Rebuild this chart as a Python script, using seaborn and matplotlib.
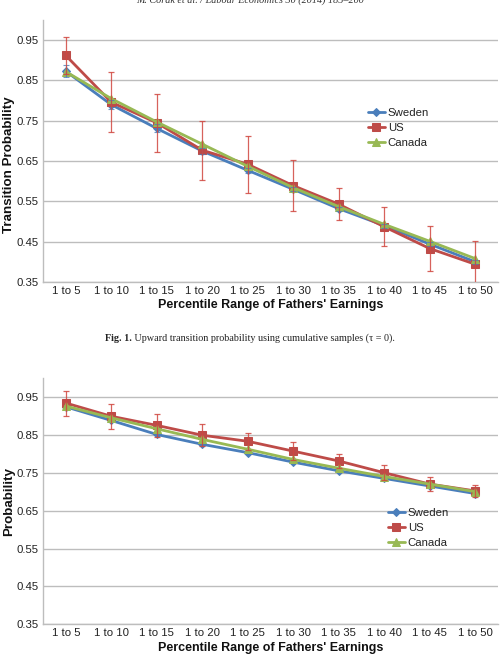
import numpy as np
import pandas as pd
import matplotlib
matplotlib.use("Agg")
import matplotlib.pyplot as plt
import seaborn as sns

# ---------------- data ----------------
categories = ["1 to 5", "1 to 10", "1 to 15", "1 to 20", "1 to 25",
              "1 to 30", "1 to 35", "1 to 40", "1 to 45", "1 to 50"]
countries = ["Sweden", "US", "Canada"]

# Fig top: transition probability (tau = 0)
top_sweden = [0.873, 0.790, 0.731, 0.675, 0.627, 0.580, 0.532, 0.490, 0.444, 0.400]
top_us     = [0.912, 0.796, 0.745, 0.677, 0.642, 0.589, 0.543, 0.487, 0.433, 0.394]
top_canada = [0.872, 0.805, 0.747, 0.692, 0.637, 0.584, 0.537, 0.493, 0.451, 0.408]
top_us_err = [0.045, 0.074, 0.072, 0.073, 0.071, 0.064, 0.040, 0.048, 0.055, 0.058]
top_sweden_err = [0.015, 0.012, 0.010, 0.008, 0.006, 0.005, 0.005, 0.005, 0.005, 0.005]

# Fig bottom: probability
bot_sweden = [0.924, 0.888, 0.851, 0.825, 0.803, 0.778, 0.755, 0.735, 0.715, 0.695]
bot_us     = [0.934, 0.899, 0.875, 0.849, 0.833, 0.807, 0.781, 0.750, 0.720, 0.702]
bot_canada = [0.926, 0.895, 0.866, 0.838, 0.812, 0.785, 0.762, 0.740, 0.720, 0.700]
bot_us_err = [0.033, 0.033, 0.031, 0.029, 0.022, 0.023, 0.019, 0.020, 0.018, 0.016]

yticks = [0.35, 0.45, 0.55, 0.65, 0.75, 0.85, 0.95]
header = "M. Corak et al. / Labour Economics 30 (2014) 185\u2013200"
caption_bold = "Fig. 1."
caption_rest = " Upward transition probability using cumulative samples (\u03c4 = 0)."

# ---------------- style ----------------
sns.set_theme(style="white")
plt.rcParams["font.family"] = ["Liberation Sans", "DejaVu Sans"]

palette = {"Sweden": "#4A7EBB", "US": "#BE4B48", "Canada": "#98B954"}
markers = {"Sweden": "D", "US": "s", "Canada": "^"}
msizes = {"Sweden": 4.0, "US": 6.0, "Canada": 6.0}

W, H = 500, 657
fig = plt.figure(figsize=(W / 100, H / 100), dpi=100)

def axes_px(left, top, right, bottom):
    return fig.add_axes([left / W, 1 - bottom / H, (right - left) / W, (bottom - top) / H])

ax1 = axes_px(43, 20, 498, 282)
ax2 = axes_px(43, 378, 498, 624.3)

def draw(ax, sw, us, ca, us_err, sw_err, ylabel, ylabel_y, legend_xy, xlabel_y):
    df = pd.DataFrame({
        "pos": list(range(len(categories))) * 3,
        "value": sw + us + ca,
        "country": ["Sweden"] * len(sw) + ["US"] * len(us) + ["Canada"] * len(ca),
    })
    for c in countries:
        sub = df[df["country"] == c]
        sns.lineplot(data=sub, x="pos", y="value", ax=ax, color=palette[c],
                     marker=markers[c], markersize=msizes[c], linewidth=2.0,
                     markeredgecolor=palette[c], label=c, zorder=3)
    x = np.arange(len(categories))
    if sw_err is not None:
        ax.errorbar(x, sw, yerr=sw_err, fmt="none", ecolor=palette["Sweden"],
                    elinewidth=0.8, capsize=2.0, capthick=0.8, alpha=0.8, zorder=4)
    ax.errorbar(x, us, yerr=us_err, fmt="none", ecolor="#D0473F",
                elinewidth=0.9, capsize=2.0, capthick=0.9, alpha=0.85, zorder=4)

    ax.set_xlim(-0.5, len(categories) - 0.5)
    ax.set_ylim(0.35, 1.0)
    ax.set_yticks(yticks)
    ax.set_yticklabels([f"{v:.2f}" for v in yticks])
    ax.set_xticks(x)
    ax.set_xticklabels(categories)
    ax.tick_params(axis="both", length=0, labelsize=8.2, colors="#222222", pad=3)
    ax.yaxis.grid(True, color="#BDBDBD", linewidth=1.0)
    ax.set_axisbelow(True)
    for s in ["top", "right"]:
        ax.spines[s].set_visible(False)
    for s in ["left", "bottom"]:
        ax.spines[s].set_color("#BDBDBD")
        ax.spines[s].set_linewidth(1.0)

    ax.set_xlabel("Percentile Range of Fathers' Earnings", fontsize=9.0,
                  fontweight="bold", color="#111111")
    ax.set_ylabel(ylabel, fontsize=9.6, fontweight="bold", color="#111111")
    ax.xaxis.set_label_coords(0.5, xlabel_y)
    ax.yaxis.set_label_coords(-0.062, ylabel_y)

    leg = ax.legend(loc="upper left", bbox_to_anchor=legend_xy, frameon=False,
                    fontsize=8.2, handlelength=1.5, handletextpad=0.25,
                    labelspacing=0.45, borderpad=0, borderaxespad=0)
    for t in leg.get_texts():
        t.set_color("#222222")

draw(ax1, top_sweden, top_us, top_canada, top_us_err, top_sweden_err,
     "Transition Probability", 0.447, (0.714, 0.665), -0.065)
draw(ax2, bot_sweden, bot_us, bot_canada, bot_us_err, None,
     "Probability", 0.5, (0.758, 0.472), -0.072)

# header (cropped at the top)
fig.text(0.5, 1 - 2.5 / H, header, ha="center", va="baseline", fontsize=7.3,
         style="italic", family=["Liberation Serif", "DejaVu Serif"], color="#333333")

# caption: bold "Fig. 1." followed by regular text
renderer = fig.canvas.get_renderer()
cap_y = 1 - 341 / H
fs = 7.3
tb = fig.text(0, cap_y, caption_bold, fontsize=fs, fontweight="bold",
              family=["Liberation Serif", "DejaVu Serif"], va="baseline", color="#222222")
tr = fig.text(0, cap_y, caption_rest, fontsize=fs,
              family=["Liberation Serif", "DejaVu Serif"], va="baseline", color="#222222")
wb = tb.get_window_extent(renderer).width
wr = tr.get_window_extent(renderer).width
start = (W - (wb + wr)) / 2
tb.set_x(start / W)
tr.set_x((start + wb) / W)

fig.savefig("out.png", dpi=100)
